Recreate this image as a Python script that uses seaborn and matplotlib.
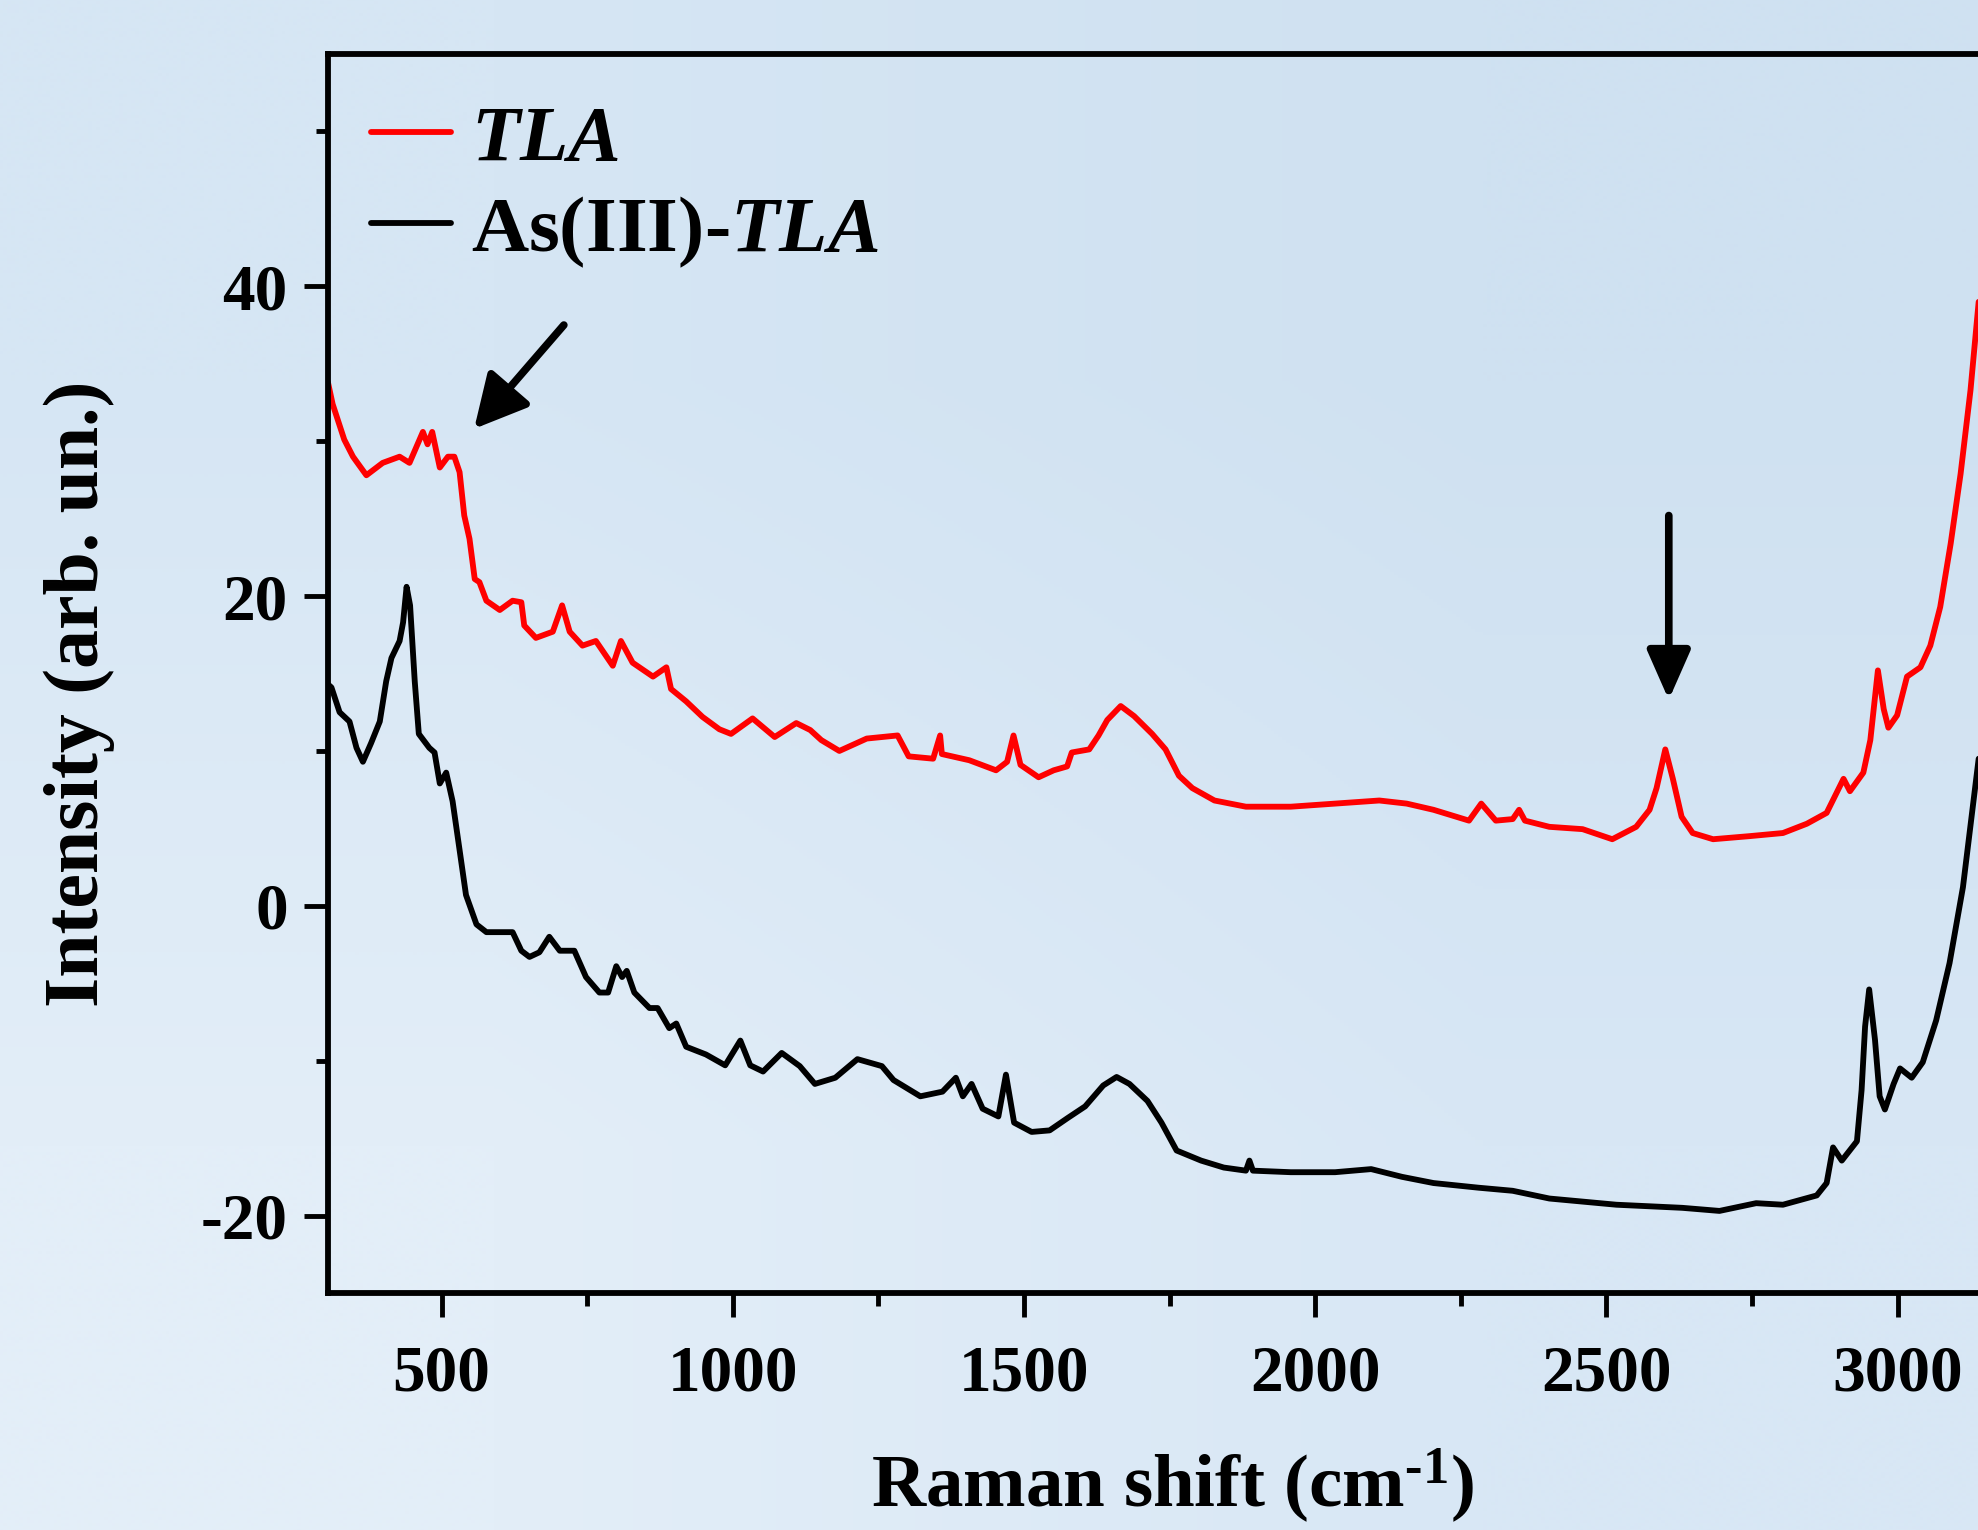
import numpy as np
import pandas as pd
import matplotlib
matplotlib.use("Agg")
import matplotlib.pyplot as plt
from matplotlib.ticker import MultipleLocator
import seaborn as sns

# ---------------- data ----------------
tla_x = [305, 313, 333, 348, 371, 399, 428, 445, 468, 476, 484, 497, 511, 522, 531,
         539, 548, 557, 565, 577, 600, 622, 637, 642, 662, 691, 707, 720, 742, 765,
         794, 808, 828, 863, 886, 894, 920, 948, 977, 997, 1034, 1072, 1109, 1133,
         1152, 1183, 1230, 1283, 1302, 1344, 1356, 1359, 1406, 1452, 1471, 1482, 1494,
         1525, 1551, 1574, 1582, 1612, 1628, 1643, 1666, 1689, 1720, 1743, 1766, 1789,
         1827, 1881, 1958, 2034, 2110, 2157, 2203, 2264, 2285, 2310, 2339, 2350, 2360,
         2402, 2459, 2510, 2551, 2574, 2586, 2601, 2614, 2629, 2648, 2683, 2746, 2803,
         2844, 2878, 2907, 2918, 2941, 2953, 2966, 2976, 2984, 2999, 3016, 3039, 3056,
         3073, 3091, 3108, 3125, 3139]
tla_y = [33.8, 32.4, 30.1, 29.0, 27.8, 28.6, 29.0, 28.6, 30.6, 29.8, 30.6, 28.3, 29.0,
         29.0, 28.0, 25.2, 23.7, 21.1, 20.9, 19.7, 19.1, 19.7, 19.6, 18.1, 17.3, 17.7,
         19.4, 17.7, 16.8, 17.1, 15.5, 17.1, 15.7, 14.8, 15.4, 14.0, 13.2, 12.2, 11.4,
         11.1, 12.1, 10.9, 11.8, 11.35, 10.7, 10.0, 10.8, 11.0, 9.65, 9.5, 11.0, 9.8,
         9.4, 8.75, 9.3, 11.0, 9.1, 8.3, 8.75, 9.0, 9.9, 10.1, 11.0, 12.0, 12.9, 12.25,
         11.1, 10.1, 8.4, 7.6, 6.8, 6.4, 6.4, 6.6, 6.8, 6.6, 6.2, 5.5, 6.6, 5.5, 5.6,
         6.2, 5.5, 5.1, 4.95, 4.3, 5.1, 6.2, 7.6, 10.1, 8.2, 5.75, 4.7, 4.3, 4.5, 4.7,
         5.3, 6.0, 8.2, 7.4, 8.6, 10.7, 15.2, 12.7, 11.5, 12.3, 14.8, 15.4, 16.8, 19.3,
         23.4, 27.9, 33.3, 39.0]

as_x = [305, 311, 325, 342, 354, 365, 379, 394, 405, 414, 428, 434, 440, 446, 454,
        461, 479, 488, 497, 508, 519, 531, 542, 560, 577, 600, 622, 637, 651, 668,
        685, 703, 728, 748, 771, 786, 800, 810, 818, 831, 857, 871, 891, 903, 920,
        954, 987, 1013, 1030, 1052, 1084, 1115, 1141, 1176, 1214, 1256, 1276, 1322,
        1360, 1383, 1395, 1410, 1429, 1456, 1469, 1483, 1513, 1544, 1575, 1605, 1636,
        1659, 1681, 1712, 1736, 1762, 1804, 1843, 1881, 1887, 1893, 1958, 2034, 2096,
        2149, 2203, 2280, 2339, 2402, 2517, 2630, 2694, 2757, 2803, 2861, 2878, 2889,
        2904, 2930, 2938, 2944, 2951, 2961, 2969, 2978, 2993, 3004, 3024, 3043, 3066,
        3089, 3112, 3139]
as_y = [14.3, 14.1, 12.5, 11.9, 10.2, 9.3, 10.5, 11.9, 14.5, 16.0, 17.1, 18.3, 20.6,
        19.4, 14.5, 11.1, 10.2, 9.9, 7.9, 8.6, 6.75, 3.6, 0.7, -1.2, -1.7, -1.7, -1.7,
        -2.9, -3.3, -3.0, -2.0, -2.9, -2.9, -4.6, -5.6, -5.6, -3.9, -4.6, -4.2, -5.6,
        -6.6, -6.6, -7.9, -7.6, -9.1, -9.6, -10.3, -8.7, -10.3, -10.7, -9.5, -10.35,
        -11.5, -11.1, -9.9, -10.35, -11.25, -12.3, -12.0, -11.1, -12.3, -11.5, -13.1,
        -13.6, -10.9, -14.0, -14.6, -14.5, -13.7, -12.95, -11.6, -11.05, -11.5, -12.6,
        -14.0, -15.8, -16.45, -16.9, -17.1, -16.45, -17.1, -17.2, -17.2, -17.0, -17.5,
        -17.9, -18.2, -18.4, -18.9, -19.3, -19.5, -19.7, -19.2, -19.3, -18.7, -17.9,
        -15.6, -16.45, -15.2, -11.9, -7.8, -5.4, -8.65, -12.3, -13.15, -11.5, -10.5,
        -11.1, -10.1, -7.4, -3.7, 1.2, 9.5]

series_names = ["$TLA$", "As(III)-$TLA$"]
x_ticks = [500, 1000, 1500, 2000, 2500, 3000]
y_ticks = [-20, 0, 20, 40]

# ---------------- style ----------------
sns.set_style("ticks")
plt.rcParams["font.family"] = ["Liberation Serif", "DejaVu Serif"]
plt.rcParams["font.weight"] = "bold"
plt.rcParams["mathtext.fontset"] = "custom"
plt.rcParams["mathtext.rm"] = "Liberation Serif:bold"
plt.rcParams["mathtext.bf"] = "Liberation Serif:bold"
plt.rcParams["mathtext.it"] = "Liberation Serif:italic:bold"
plt.rcParams["axes.unicode_minus"] = False
for k in ["text.color", "axes.labelcolor", "xtick.color", "ytick.color",
          "axes.edgecolor"]:
    plt.rcParams[k] = "black"

fig = plt.figure(figsize=(19.78, 15.30), dpi=100)

# gradient background
bg = fig.add_axes([0, 0, 1, 1], zorder=-10)
c_tl = np.array([0xd6, 0xe6, 0xf4]) / 255
c_tr = np.array([0xcf, 0xe1, 0xf1]) / 255
c_bl = np.array([0xe3, 0xee, 0xf8]) / 255
c_br = np.array([0xd8, 0xe7, 0xf5]) / 255
grad = np.array([[c_tl, c_tr], [c_bl, c_br]])
bg.imshow(grad, aspect="auto", interpolation="bilinear", extent=[0, 1, 0, 1])
bg.set_axis_off()

ax = fig.add_axes([0.1658, 0.1549, 0.8525, 0.8098])
ax.set_facecolor("none")

df = pd.concat([
    pd.DataFrame({"x": tla_x, "y": tla_y, "s": series_names[0]}),
    pd.DataFrame({"x": as_x, "y": as_y, "s": series_names[1]}),
])
sns.lineplot(data=df, x="x", y="y", hue="s", palette=["#ff0000", "#000000"],
             linewidth=4.2, ax=ax, sort=False, estimator=None)

ax.set_xlim(305, 3200)
ax.set_ylim(-25, 55)
ax.set_xticks(x_ticks)
ax.set_yticks(y_ticks)
ax.xaxis.set_minor_locator(MultipleLocator(250))
ax.yaxis.set_minor_locator(MultipleLocator(10))
for s in ax.spines.values():
    s.set_linewidth(4.2)
ax.tick_params(which="major", direction="out", length=17, width=3.5,
               labelsize=47, pad=12, colors="black")
ax.tick_params(axis="x", which="major", pad=20)
ax.tick_params(which="minor", direction="out", length=9, width=3.5, colors="black")
for lab in ax.get_xticklabels() + ax.get_yticklabels():
    lab.set_fontweight("bold")

ax.set_xlabel("Raman shift (cm$^{\u2010 1}$)", fontsize=54, fontweight="bold")
ax.set_ylabel("Intensity (arb. un.)", fontsize=56, fontweight="bold")
ax.xaxis.set_label_coords(0.501, -0.124)
ax.yaxis.set_label_coords(-0.126, 0.484)

leg = ax.legend(loc="upper left", bbox_to_anchor=(0.0065, 0.985), frameon=False,
                fontsize=57, handlelength=1.02, handletextpad=0.25,
                labelspacing=0.22, borderaxespad=0)
for t in leg.get_texts():
    t.set_fontweight("bold")
for ln in leg.get_lines():
    ln.set_linewidth(4.2)

ax.annotate("", xy=(556, 30.8), xytext=(710, 37.5),
            arrowprops=dict(arrowstyle="-|>,head_length=0.5,head_width=0.26",
                            lw=5.5, color="k", mutation_scale=64,
                            shrinkA=0, shrinkB=0))
ax.annotate("", xy=(2607, 13.3), xytext=(2607, 25.2),
            arrowprops=dict(arrowstyle="-|>,head_length=0.5,head_width=0.22",
                            lw=5.5, color="k", mutation_scale=60,
                            shrinkA=0, shrinkB=0))

fig.savefig("out.png", dpi=100)
